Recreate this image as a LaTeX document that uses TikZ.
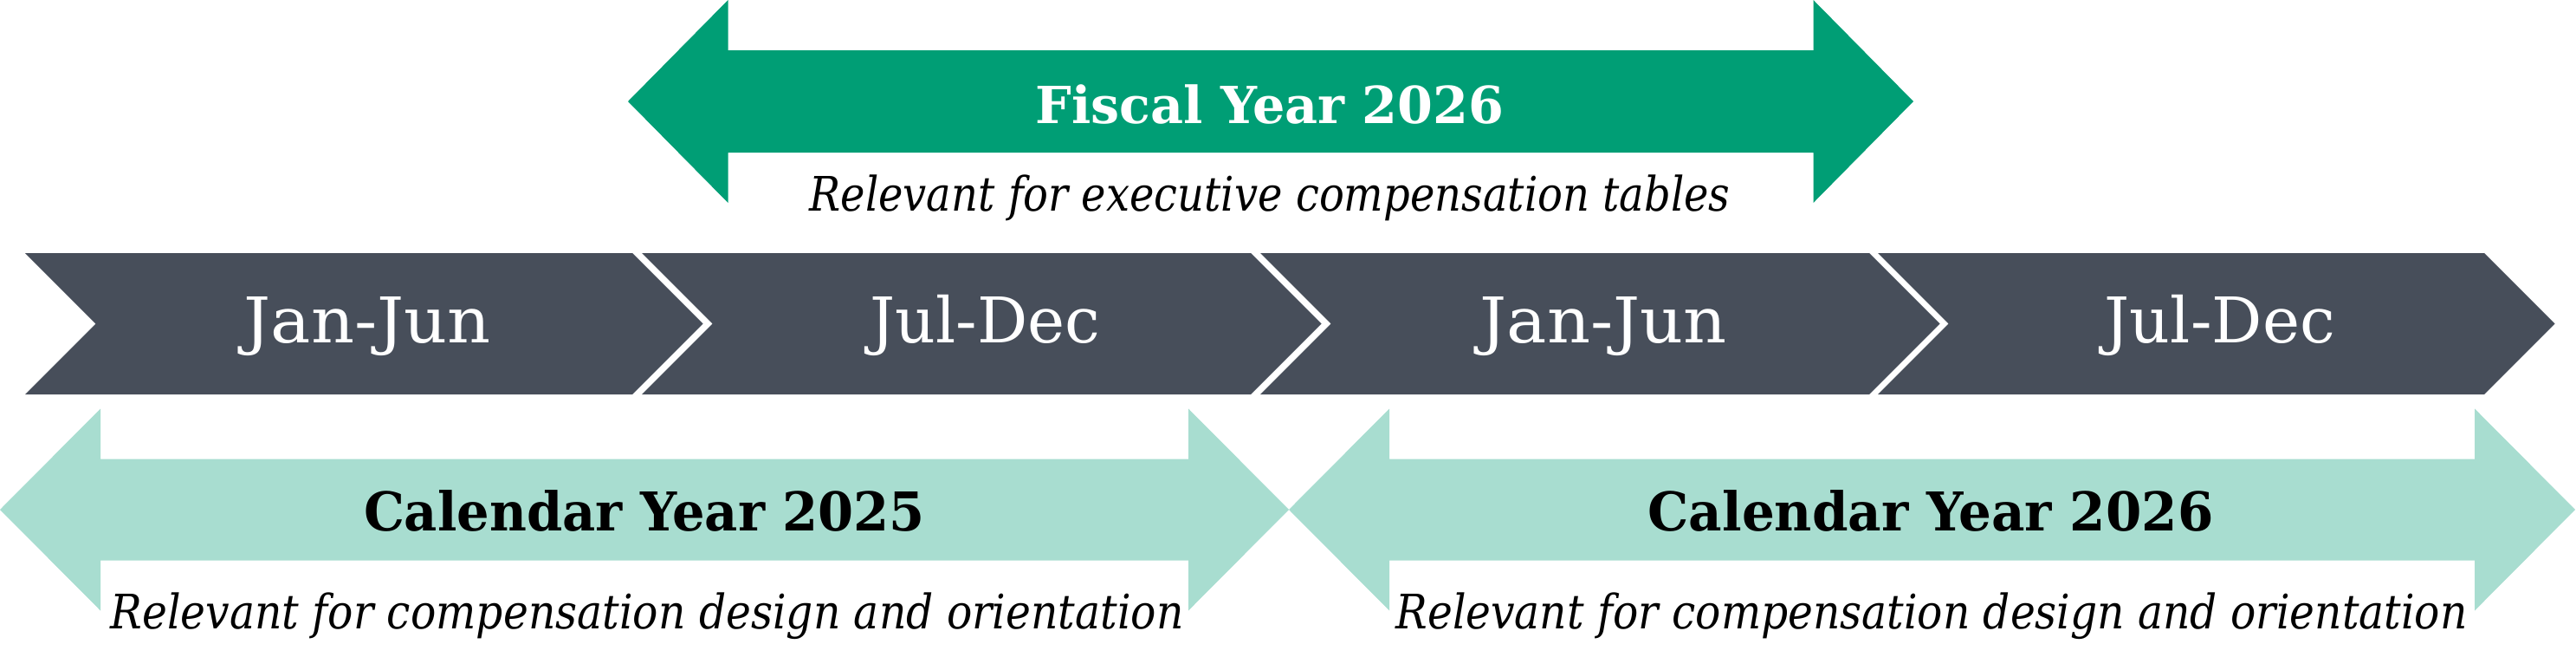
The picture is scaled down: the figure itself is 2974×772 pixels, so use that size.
\documentclass[tikz,border=0pt]{standalone}
\usepackage{graphicx}
\usepackage{fontspec}
\setmainfont{DejaVu Serif}
\definecolor{fygreen}{HTML}{009E75}
\definecolor{cyteal}{HTML}{A8DDD0}
\definecolor{bandgray}{HTML}{474E5A}
\newlength\fitlen
\newsavebox\fitsave
% #1 font switch, #2 target width, #3 target cap height, #4 text
\newcommand\fitbox[4]{\pgfmathsetmacro\fitsz{#3/0.729}%
  \sbox\fitsave{#1\fontsize{\fitsz pt}{\fitsz pt}\selectfont #4}%
  \setlength\fitlen{\wd\fitsave}%
  \pgfmathsetmacro\fitsc{#2/\fitlen}%
  \scalebox{\fitsc}[1]{\usebox\fitsave}}
% double arrow: #1 left tip x, #2 right tip x, #3 centre y, #4 head half height, #5 shaft half height, #6 head depth
\newcommand\dblarrow[7]{%
  \fill[#7] (#1,#3) -- ({#1+#6},{#3-#4}) -- ({#1+#6},{#3-#5}) -- ({#2-#6},{#3-#5})
    -- ({#2-#6},{#3-#4}) -- (#2,#3) -- ({#2-#6},{#3+#4}) -- ({#2-#6},{#3+#5})
    -- ({#1+#6},{#3+#5}) -- ({#1+#6},{#3+#4}) -- cycle;}
\tikzset{
  chevfill/.style={fill=bandgray},
  monthtext/.style={anchor=base, inner sep=0pt, text=white},
  titletext/.style={anchor=base, inner sep=0pt},
  notetext/.style={anchor=base, inner sep=0pt, text=black}
}
\begin{document}
\begin{tikzpicture}[x=1pt,y=-1pt]
\useasboundingbox (0,0) rectangle (2974,772);
% Fiscal year arrow
\dblarrow{725}{2209}{117}{117}{59}{115.5}{fygreen}
\node[titletext, text=white] (fy) at (1466,142) {\fitbox{\bfseries}{541}{43}{Fiscal Year 2026}};
\node[notetext] (fynote) at (1466,243) {\fitbox{\itshape}{1063}{40}{Relevant for executive compensation tables}};
% half-year chevrons
\foreach \L/\R [count=\i] in {29/730, 741/1444, 1455/2158, 2168/2868}{
  \fill[chevfill] (\L,292) -- (\R,292) -- ({\R+81.5},373.5) -- (\R,455) -- (\L,455) -- ({\L+81.5},373.5) -- cycle;
  \coordinate (c\i) at ({(\L+81.5+\R)/2+4},395);
}
\node[monthtext] (h1) at (c1) {\fitbox{}{285}{53}{Jan-Jun}};
\node[monthtext] (h2) at (c2) {\fitbox{}{266}{53}{Jul-Dec}};
\node[monthtext] (h3) at (c3) {\fitbox{}{285}{53}{Jan-Jun}};
\node[monthtext] (h4) at (c4) {\fitbox{}{266}{53}{Jul-Dec}};
% calendar year arrows
\dblarrow{0}{1488}{588}{116.5}{58.5}{116}{cyteal}
\dblarrow{1488}{2973}{588}{116.5}{58.5}{116}{cyteal}
\node[titletext, text=black] (cy1) at (744,612) {\fitbox{\bfseries}{648}{45}{Calendar Year 2025}};
\node[notetext] (cy1note) at (747,725) {\fitbox{\itshape}{1239}{40}{Relevant for compensation design and orientation}};
\node[titletext, text=black] (cy2) at (2229,612) {\fitbox{\bfseries}{653}{45}{Calendar Year 2026}};
\node[notetext] (cy2note) at (2230,725) {\fitbox{\itshape}{1237}{40}{Relevant for compensation design and orientation}};
\end{tikzpicture}
\end{document}
